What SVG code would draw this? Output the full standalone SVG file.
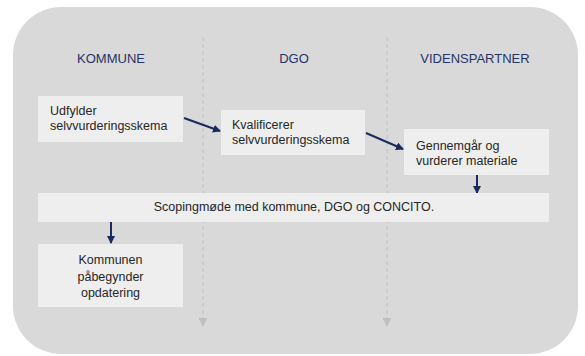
<svg xmlns="http://www.w3.org/2000/svg" width="585" height="356" viewBox="0 0 585 356">
<defs>
<style>
.hdr{font-family:"Liberation Sans",Arial,sans-serif;font-size:13px;fill:#263467;text-anchor:middle}
.txt{font-family:"Liberation Sans",Arial,sans-serif;font-size:12.5px;fill:#262626}
.box{fill:#eeeeee}
.lane{stroke:#c0c0c0;stroke-width:1;stroke-dasharray:4 3;fill:none}
.flow{stroke:#1b2a5e;stroke-width:2;fill:none}
</style>
<marker id="ah" markerWidth="8" markerHeight="8" refX="7" refY="4" orient="auto" markerUnits="userSpaceOnUse">
<path d="M0,0 L8,4 L0,8 Z" fill="#1b2a5e"/>
</marker>
<marker id="gh" markerWidth="9" markerHeight="9" refX="8" refY="4.5" orient="auto" markerUnits="userSpaceOnUse">
<path d="M0,0 L9,4.5 L0,9 Z" fill="#c0c0c0"/>
</marker>
</defs>
<rect id="background" x="13" y="7" width="565" height="347" rx="48" ry="48" fill="#d9d9d9"/>
<g id="lanes">
<line class="lane" x1="203" y1="37" x2="203" y2="326" marker-end="url(#gh)"/>
<line class="lane" x1="387" y1="37" x2="387" y2="326" marker-end="url(#gh)"/>
</g>
<g id="headers">
<text class="hdr" x="111" y="63">KOMMUNE</text>
<text class="hdr" x="294" y="63">DGO</text>
<text class="hdr" x="475" y="63">VIDENSPARTNER</text>
</g>
<g id="connectors">
<line class="flow" x1="184" y1="118" x2="220" y2="131" marker-end="url(#ah)"/>
<line class="flow" x1="366" y1="133" x2="403" y2="149" marker-end="url(#ah)"/>
<line class="flow" x1="477" y1="175" x2="477" y2="193" marker-end="url(#ah)"/>
<line class="flow" x1="111" y1="222" x2="111" y2="243" marker-end="url(#ah)"/>
</g>
<g id="node1">
<rect class="box" x="38" y="96" width="145" height="46"/>
<text class="txt" x="50" y="115">Udfylder</text>
<text class="txt" x="50" y="130">selvvurderingsskema</text>
</g>
<g id="node2">
<rect class="box" x="221" y="110" width="144" height="45"/>
<text class="txt" x="232" y="129">Kvalificerer</text>
<text class="txt" x="232" y="144">selvvurderingsskema</text>
</g>
<g id="node3">
<rect class="box" x="404" y="129" width="145" height="46"/>
<text class="txt" x="416" y="150">Gennemgår og</text>
<text class="txt" x="416" y="165">vurderer materiale</text>
</g>
<g id="node4">
<rect class="box" x="38" y="193" width="511" height="29"/>
<text class="txt" x="294" y="211" text-anchor="middle">Scopingmøde med kommune, DGO og CONCITO.</text>
</g>
<g id="node5">
<rect class="box" x="38" y="244" width="145" height="63"/>
<text class="txt" x="110.5" y="264" text-anchor="middle">Kommunen</text>
<text class="txt" x="110.5" y="281" text-anchor="middle">påbegynder</text>
<text class="txt" x="110.5" y="297" text-anchor="middle">opdatering</text>
</g>
</svg>
